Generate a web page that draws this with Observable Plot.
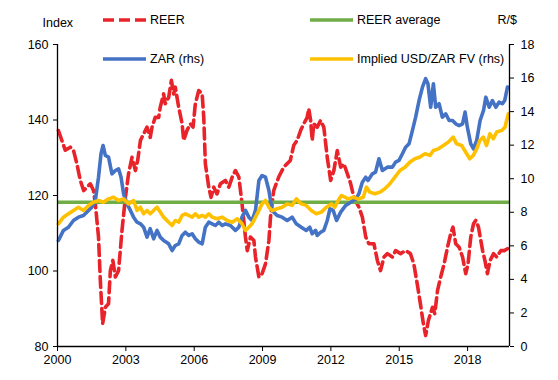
<!DOCTYPE html>
<html><head><meta charset="utf-8">
<script src="https://cdn.jsdelivr.net/npm/d3@7"></script>
<script src="https://cdn.jsdelivr.net/npm/@observablehq/plot@0.6"></script>
<style>
body{margin:0;background:#fff;}
#wrap{position:relative;width:558px;height:380px;font-family:"Liberation Sans",Arial,sans-serif;font-size:12.5px;color:#000;}
.lg{position:absolute;display:flex;align-items:center;white-space:nowrap;height:16px;}
.lg svg{display:block;margin-right:4px;}
.lbl{position:absolute;white-space:nowrap;line-height:16px;}
</style></head><body>
<div id="wrap"></div>
<script>
// ---- data ----
const xStart = 2000, xEnd = 2019.84;
const xTicks = [2000, 2003, 2006, 2009, 2012, 2015, 2018];
const leftTicks = [80, 100, 120, 140, 160];
const rightTicks = [0, 2, 4, 6, 8, 10, 12, 14, 16, 18];
const reerAverage = 118.2;

const reerYears = [2000.04,2000.19,2000.34,2000.56,2000.7,2000.85,2001.0,2001.15,2001.29,2001.44,2001.58,2001.66,2001.8,2001.88,2001.98,2002.1,2002.24,2002.32,2002.43,2002.54,2002.68,2002.83,2002.98,2003.12,2003.27,2003.42,2003.52,2003.64,2003.78,2003.93,2004.07,2004.15,2004.29,2004.44,2004.51,2004.66,2004.73,2004.88,2005.0,2005.1,2005.17,2005.32,2005.47,2005.54,2005.68,2005.83,2005.95,2006.05,2006.2,2006.35,2006.42,2006.49,2006.64,2006.74,2006.86,2007.0,2007.15,2007.37,2007.52,2007.67,2007.81,2007.96,2008.1,2008.25,2008.33,2008.47,2008.62,2008.69,2008.84,2008.98,2009.13,2009.28,2009.35,2009.49,2009.71,2009.93,2010.22,2010.37,2010.52,2010.67,2010.81,2010.96,2011.03,2011.11,2011.18,2011.25,2011.4,2011.55,2011.69,2011.84,2011.99,2012.13,2012.28,2012.43,2012.57,2012.72,2012.87,2013.01,2013.23,2013.38,2013.53,2013.67,2013.89,2014.04,2014.18,2014.33,2014.48,2014.7,2014.84,2015.06,2015.28,2015.49,2015.64,2015.79,2015.93,2016.06,2016.16,2016.28,2016.46,2016.56,2016.68,2016.82,2016.97,2017.12,2017.26,2017.36,2017.48,2017.63,2017.78,2017.92,2018.02,2018.14,2018.26,2018.36,2018.48,2018.58,2018.66,2018.76,2018.87,2018.99,2019.14,2019.28,2019.46,2019.61,2019.75];
const reerValues = [137.2,134.6,132,132.8,132,128.4,124,121.3,122.2,123.1,121.3,117.8,109,97.5,86,90.4,91.3,100.1,102.8,98.4,100.1,110.7,119.5,125.8,130.1,126.6,129.3,134.6,136.3,138.1,135.4,138.1,140.7,140.7,143.4,146.9,144.3,146,150.5,146.9,148.7,143.4,139,134.6,137.2,139,138.1,144.3,147.8,146.9,140.7,128.4,122.2,119.5,122.2,120.4,123.1,124,122.2,124.9,126.6,124.9,117.8,109,105.4,109,108.1,103.7,98.4,99.3,101.9,108.1,114.3,121.3,124.9,127.5,129.3,133.3,134.6,137.2,139,140.7,143,139.9,134.6,139,138.1,139.9,138.1,130.1,124,126.6,131.9,127.5,128.4,125.8,123.1,119.5,116.9,114.3,109,107.2,107.2,102.8,100.1,103.7,104.6,103.7,105.4,104.6,105.4,104.6,101.9,96.6,91.3,86,82.9,86.9,90.4,88.7,94.8,98.4,101.9,106.3,109.9,111.6,107.2,106.3,103.7,99.3,101.9,109,112.5,113.4,111.6,108.1,105.4,102.8,99.3,102.8,104.6,103.7,105.4,105.4,105.9];

const zarYears = [2000.04,2000.26,2000.48,2000.7,2000.92,2001.14,2001.36,2001.51,2001.66,2001.8,2001.91,2002.0,2002.1,2002.24,2002.39,2002.54,2002.68,2002.79,2002.9,2003.05,2003.2,2003.34,2003.49,2003.64,2003.78,2003.93,2004.07,2004.22,2004.37,2004.51,2004.66,2004.88,2005.03,2005.17,2005.32,2005.47,2005.61,2005.76,2005.91,2006.05,2006.2,2006.35,2006.49,2006.64,2006.79,2006.93,2007.08,2007.23,2007.37,2007.59,2007.81,2007.96,2008.1,2008.25,2008.4,2008.54,2008.69,2008.84,2008.98,2009.13,2009.28,2009.42,2009.64,2009.86,2010.08,2010.3,2010.48,2010.7,2010.92,2011.07,2011.18,2011.33,2011.4,2011.55,2011.69,2011.84,2011.96,2012.1,2012.25,2012.43,2012.65,2012.87,2013.09,2013.23,2013.38,2013.53,2013.63,2013.82,2013.96,2014.11,2014.26,2014.48,2014.7,2014.84,2014.99,2015.14,2015.28,2015.43,2015.58,2015.72,2015.87,2016.02,2016.16,2016.26,2016.38,2016.5,2016.6,2016.75,2016.89,2017.04,2017.19,2017.34,2017.48,2017.63,2017.78,2017.89,2017.99,2018.14,2018.26,2018.4,2018.55,2018.7,2018.8,2018.95,2019.09,2019.24,2019.38,2019.53,2019.63,2019.75];
const zarValues = [6.32,6.92,7.11,7.51,7.71,7.81,8.11,8.3,8.7,10.09,11.49,11.98,11.39,11.29,10.29,10.49,10.59,10.09,9.1,8.5,8.11,7.71,7.41,7.31,7.11,6.52,7.02,6.42,6.92,6.52,6.32,6.12,5.72,6.02,6.12,6.62,6.81,6.62,6.72,6.42,6.22,6.12,7.11,7.41,7.31,7.21,7.41,7.21,7.31,7.21,6.92,7.11,7.71,8.11,7.71,7.51,8.11,9.9,10.19,10.09,9.3,8.11,7.81,7.71,7.51,7.71,7.31,7.11,6.92,7.11,6.72,6.92,6.62,6.81,6.92,7.51,8.21,8.11,7.51,8.01,8.41,8.6,8.8,9.1,9.79,10.09,9.9,10.29,10.39,11.19,10.49,10.69,10.69,10.99,11.09,11.49,11.88,12.08,12.88,13.67,14.66,15.46,15.96,15.66,14.26,15.66,14.26,14.47,13.67,13.87,13.47,13.47,13.27,13.17,13.27,13.97,13.07,12.08,11.78,12.28,13.47,14.07,14.86,14.26,14.66,14.26,14.56,14.47,14.66,15.46];

const fvYears = [2000.04,2000.26,2000.48,2000.7,2000.92,2001.14,2001.36,2001.58,2001.8,2002.02,2002.24,2002.46,2002.68,2002.9,2003.12,2003.34,2003.49,2003.64,2003.78,2003.93,2004.07,2004.22,2004.37,2004.51,2004.66,2004.88,2005.03,2005.17,2005.32,2005.47,2005.61,2005.76,2005.91,2006.05,2006.2,2006.35,2006.49,2006.64,2006.79,2007.0,2007.23,2007.45,2007.67,2007.89,2008.1,2008.25,2008.4,2008.54,2008.69,2008.84,2008.98,2009.13,2009.28,2009.42,2009.64,2009.86,2010.08,2010.3,2010.48,2010.7,2010.92,2011.14,2011.36,2011.58,2011.8,2012.02,2012.17,2012.32,2012.46,2012.61,2012.76,2012.98,2013.2,2013.42,2013.56,2013.71,2013.93,2014.15,2014.37,2014.59,2014.81,2015.03,2015.25,2015.47,2015.69,2015.91,2016.13,2016.35,2016.5,2016.72,2016.94,2017.15,2017.37,2017.52,2017.74,2017.96,2018.1,2018.25,2018.4,2018.54,2018.69,2018.83,2018.98,2019.13,2019.28,2019.5,2019.64,2019.79];
const fvValues = [7.31,7.71,7.91,8.11,8.3,8.11,8.41,8.6,8.7,8.6,8.8,8.9,8.7,8.8,8.5,8.7,8.11,8.3,7.91,8.11,7.91,8.11,8.3,8.01,7.71,7.41,7.21,7.51,7.41,7.81,7.91,7.81,7.71,7.91,7.71,7.81,7.71,7.91,7.71,7.61,7.71,7.51,7.41,7.61,7.31,6.92,7.11,7.31,7.71,8.11,8.5,8.7,8.3,8.11,8.21,8.3,8.5,8.41,8.8,8.5,8.41,8.11,7.91,8.01,8.3,8.5,8.3,8.7,9.0,8.9,8.8,8.9,8.8,8.9,9.5,9.2,9.1,9.2,9.4,9.7,10.09,10.49,10.69,10.99,11.19,11.29,11.49,11.39,11.68,11.78,11.98,12.18,12.48,12.08,11.98,11.49,11.19,11.39,11.78,12.28,12.48,11.98,12.68,12.38,12.78,12.88,13.07,13.87];

// ---- build ----
const toTable = (xs, vs) => xs.map((x, i) => ({year: x, v: vs[i]}));
const reer = toTable(reerYears, reerValues);
const zar = toTable(zarYears, zarValues);
const fv = toTable(fvYears, fvValues);

const C = {reer: "#E8232A", avg: "#70AD47", zar: "#4472C4", fv: "#FFC000"};
const r2l = d3.scaleLinear([0, 18], [80, 160]);

const chart = Plot.plot({
  width: 558, height: 380,
  marginLeft: 57, marginRight: 49, marginTop: 44, marginBottom: 34,
  style: {fontFamily: '"Liberation Sans", Arial, sans-serif', fontSize: "12.5px", color: "#000", background: "#fff", overflow: "visible"},
  x: {domain: [xStart, xEnd]},
  y: {domain: [80, 160]},
  marks: [
    Plot.line(reer, {x: "year", y: "v", stroke: C.reer, strokeWidth: 3.6, strokeDasharray: "11,5", strokeLinejoin: "round"}),
    Plot.ruleY([reerAverage], {stroke: C.avg, strokeWidth: 3.6}),
    Plot.line(zar, {x: "year", y: d => r2l(d.v), stroke: C.zar, strokeWidth: 3.6, strokeLinejoin: "round"}),
    Plot.line(fv, {x: "year", y: d => r2l(d.v), stroke: C.fv, strokeWidth: 3.6, strokeLinejoin: "round"}),
    Plot.ruleX([xStart], {stroke: "#000", strokeWidth: 1.3}),
    Plot.ruleX([xEnd], {stroke: "#000", strokeWidth: 1.3}),
    Plot.ruleY([80], {stroke: "#000", strokeWidth: 1.3}),
    Plot.axisX({ticks: xTicks, tickFormat: d => String(d), tickSize: 5, tickPadding: 4, label: null, stroke: "#000"}),
    Plot.axisY({ticks: leftTicks, tickSize: 4, tickPadding: 5, label: null, anchor: "left", stroke: "#000"}),
    Plot.axisY(rightTicks.map(r2l), {anchor: "right", tickFormat: d => String(Math.round(r2l.invert(d))), tickSize: 4, tickPadding: 7, label: null, stroke: "#000"})
  ]
});

const wrap = document.getElementById("wrap");
wrap.appendChild(chart);

function legendItem(left, cy, color, dash, text) {
  const div = document.createElement("div");
  div.className = "lg";
  div.style.left = left + "px";
  div.style.top = (cy - 8) + "px";
  div.innerHTML = `<svg width="43" height="16"><line x1="0" x2="43" y1="8" y2="8" stroke="${color}" stroke-width="3.6" ${dash ? `stroke-dasharray="${dash}"` : ""}/></svg><span>${text}</span>`;
  wrap.appendChild(div);
}
legendItem(103, 20, C.reer, "11,5", "REER");
legendItem(103, 59, C.zar, null, "ZAR (rhs)");
legendItem(310, 20, C.avg, null, "REER average");
legendItem(310, 59, C.fv, null, "Implied USD/ZAR FV (rhs)");

function label(cx, cy, text) {
  const d = document.createElement("div");
  d.className = "lbl";
  d.textContent = text;
  d.style.top = (cy - 8) + "px";
  wrap.appendChild(d);
  d.style.left = (cx - d.offsetWidth / 2) + "px";
}
label(58, 23, "Index");
label(507, 20, "R/$");
</script>
</body></html>
